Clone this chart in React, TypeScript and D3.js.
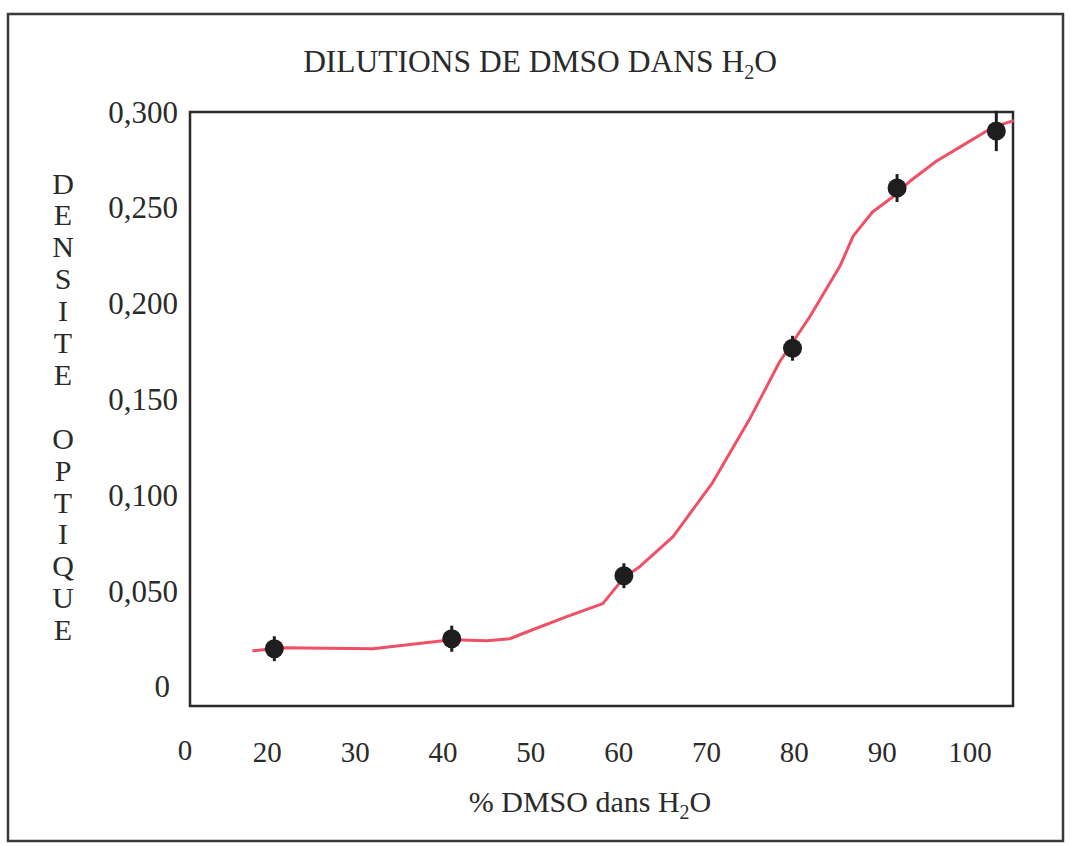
import React from "react";
import * as d3 from "d3";

// ---- data ----
const pointX = [20.8, 41.0, 60.6, 79.8, 91.7, 103.0];
const pointY = [0.0199, 0.0251, 0.058, 0.1767, 0.2603, 0.2901];
const pointErr = [0.0065, 0.0068, 0.0065, 0.0065, 0.0073, 0.0105];

const curveX = [18.3, 21.7, 32.0, 41.0, 45.0, 47.6, 50.2, 54.1, 58.2, 60.6, 62.4, 66.2, 70.7, 74.9, 78.3, 81.8, 85.2, 86.7, 88.9, 91.2, 93.2, 96.2, 98.9, 101.9, 103.8, 105.0];
const curveY = [0.0188, 0.0204, 0.0199, 0.0246, 0.024, 0.0251, 0.0298, 0.0366, 0.0434, 0.057, 0.0627, 0.0784, 0.1066, 0.1396, 0.1694, 0.1934, 0.2196, 0.2352, 0.2478, 0.2556, 0.264, 0.2744, 0.2818, 0.2901, 0.2938, 0.2955];

const xTicks = [20, 30, 40, 50, 60, 70, 80, 90, 100];
const yTicks = [0, 0.05, 0.1, 0.15, 0.2, 0.25, 0.3];
const yLetters = ["D", "E", "N", "S", "I", "T", "E", "", "O", "P", "T", "I", "Q", "U", "E"];

const FONT = "'Liberation Serif', 'Times New Roman', serif";
const INK = "#2a2a2a";
const RED = "#ef5065";

export default function App() {
  const left = 190, right = 1013, top = 112, bottom = 706;
  const x = d3.scaleLinear().domain([11.2, 104.9]).range([left, right]);
  const y = d3.scaleLinear().domain([-0.01, 0.3]).range([bottom, top]);
  const fmt = (v: number) => (v === 0 ? "0" : d3.format(".3f")(v).replace(".", ","));

  const line = d3
    .line<number>()
    .x((_, i) => x(curveX[i]))
    .y((d) => y(d))
    .curve(d3.curveLinear);

  return (
    <svg
      width={1070}
      height={846}
      style={{ position: "absolute", left: 0, top: 0, background: "#ffffff" }}
      fontFamily={FONT}
    >
      <rect x={0} y={0} width={1070} height={846} fill="#fff" />
      {/* outer page border */}
      <rect x={8} y={14} width={1055} height={827} fill="none" stroke="#3a3a3a" strokeWidth={2.5} />

      {/* title */}
      <text x={540} y={72} textAnchor="middle" fontSize={31.5} fill={INK}>
        DILUTIONS DE DMSO DANS H
        <tspan fontSize={20} dy={7}>2</tspan>
        <tspan dy={-7}>O</tspan>
      </text>

      {/* plot frame */}
      <rect x={left} y={top} width={right - left} height={bottom - top} fill="none" stroke={INK} strokeWidth={2.5} />

      {/* y ticks labels */}
      {yTicks.map((v) => (
        <text
          key={v}
          x={v === 0 ? 170 : 178}
          y={y(v)}
          textAnchor="end"
          dominantBaseline="central"
          fontSize={31}
          fill={INK}
        >
          {fmt(v)}
        </text>
      ))}

      {/* x tick labels */}
      <text x={185} y={750} textAnchor="middle" dominantBaseline="central" fontSize={29} fill={INK}>
        0
      </text>
      {xTicks.map((v) => (
        <text key={v} x={x(v)} y={752} textAnchor="middle" dominantBaseline="central" fontSize={29} fill={INK}>
          {v}
        </text>
      ))}

      {/* x axis title */}
      <text x={590} y={812} textAnchor="middle" fontSize={30} fill={INK}>
        % DMSO dans H
        <tspan fontSize={20} dy={7}>2</tspan>
        <tspan dy={-7}>O</tspan>
      </text>

      {/* y axis title, stacked letters */}
      {yLetters.map((c, i) => (
        <text key={i} x={63} y={183 + i * 31.9} textAnchor="middle" dominantBaseline="central" fontSize={30} fill={INK}>
          {c}
        </text>
      ))}

      {/* fitted curve */}
      <path d={line(curveY) || ""} fill="none" stroke={RED} strokeWidth={3} strokeLinejoin="round" />

      {/* error bars & points */}
      {pointX.map((px, i) => (
        <g key={i}>
          <line
            x1={x(px)}
            x2={x(px)}
            y1={y(pointY[i] - pointErr[i])}
            y2={y(pointY[i] + pointErr[i])}
            stroke="#1e1e1e"
            strokeWidth={3}
          />
          <circle cx={x(px)} cy={y(pointY[i])} r={9.5} fill="#1e1e1e" />
        </g>
      ))}
    </svg>
  );
}
